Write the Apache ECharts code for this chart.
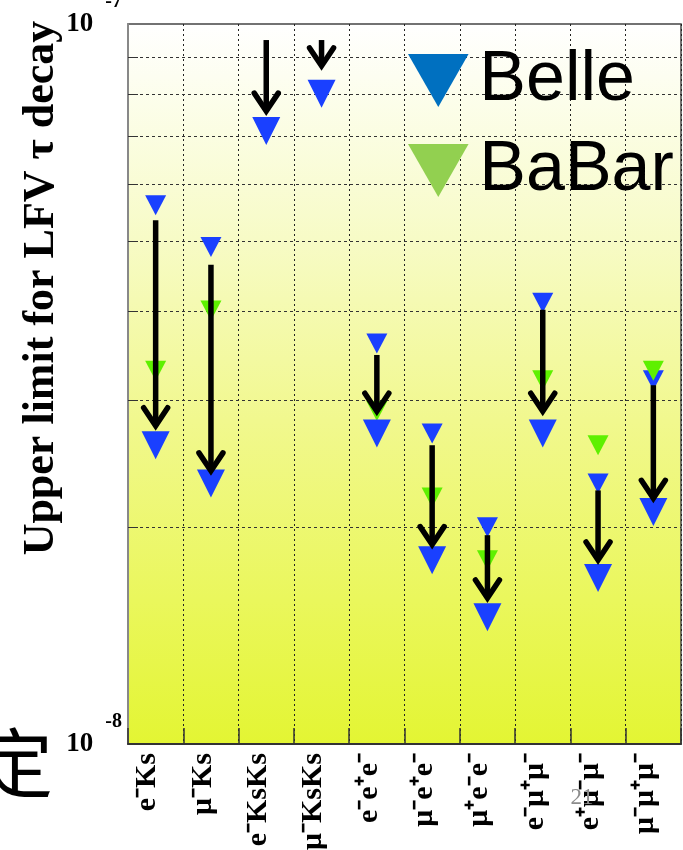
<!DOCTYPE html>
<html>
<head>
<meta charset="utf-8">
<script src="https://cdn.jsdelivr.net/npm/echarts@6/dist/echarts.min.js"></script>
<style>
html,body{margin:0;padding:0;background:#fff;}
#chart{width:683px;height:850px;}
</style>
</head>
<body>
<div id="chart"></div>
<script>
// ---- data ----
const categories = ['e\u207BKs', '\u03BC\u207BKs', 'e\u207BKsKs', '\u03BC\u207BKsKs', 'e\u207Be\u207Ae\u207B',
  '\u03BC\u207Be\u207Ae\u207B', '\u03BC\u207Ae\u207Be\u207B', 'e\u207B\u03BC\u207A\u03BC\u207B', 'e\u207A\u03BC\u207B\u03BC\u207B', '\u03BC\u207B\u03BC\u207A\u03BC\u207B'];
const belleOld = [5.6e-8, 4.9e-8, null, null, 3.6e-8, 2.7e-8, 2.0e-8, 4.1e-8, 2.3e-8, 3.2e-8];
const babar    = [3.3e-8, 4.0e-8, null, null, 2.9e-8, 2.2e-8, 1.8e-8, 3.2e-8, 2.6e-8, 3.3e-8];
const belleNew = [2.6e-8, 2.3e-8, 7.1e-8, 8.0e-8, 2.7e-8, 1.8e-8, 1.5e-8, 2.7e-8, 1.7e-8, 2.1e-8];
const arrowFrom = [5.34e-8, 4.63e-8, 9.5e-8, 9.5e-8, 3.47e-8, 2.60e-8, 1.95e-8, 4.01e-8, 2.25e-8, 3.15e-8];
const arrowTo   = [2.75e-8, 2.38e-8, 7.52e-8, 8.69e-8, 2.88e-8, 1.88e-8, 1.585e-8, 2.88e-8, 1.79e-8, 2.18e-8];
const gridValues = [2e-8, 3e-8, 4e-8, 5e-8, 6e-8, 7e-8, 8e-8, 9e-8];
const yMin = 1e-8, yMax = 1e-7;
const yTitle = 'Upper limit for LFV \u03C4 decay';
const legendNames = ['Belle', 'BaBar'];

const serif = '"Liberation Serif", "Times New Roman", serif';
const toData = arr => arr.map(v => v == null ? '-' : v);
const downTri = 'path://M0,0L2,0L1,1.75Z';

const chart = echarts.init(document.getElementById('chart'), null, {renderer: 'canvas'});
chart.setOption({
  animation: false,
  grid: {
    left: 128, right: 2, top: 24, bottom: 106,
    outerBoundsMode: 'none', containLabel: false,
    show: true,
    borderColor: '#444', borderWidth: 1.5,
    backgroundColor: new echarts.graphic.LinearGradient(0, 0, 0, 1, [
      {offset: 0, color: '#ffffff'},
      {offset: 0.3, color: '#f7fbc6'},
      {offset: 0.55, color: '#f1f88e'},
      {offset: 0.8, color: '#eaf75c'},
      {offset: 1, color: '#e3f533'}
    ])
  },
  legend: {
    left: 408, top: 41, orient: 'vertical', padding: 0,
    itemWidth: 62, itemHeight: 53, itemGap: 11,
    textStyle: {fontSize: 70, lineHeight: 70, padding: [9, 0, 0, 5],
      fontFamily: '"Liberation Sans", Arial, sans-serif', color: '#000'},
    data: [
      {name: legendNames[0], icon: downTri, itemStyle: {color: '#0070c0', opacity: 1}},
      {name: legendNames[1], icon: downTri, itemStyle: {color: '#92d050', opacity: 1}}
    ],
    selectedMode: false
  },
  xAxis: {
    type: 'category',
    data: categories,
    boundaryGap: true,
    axisLine: {show: true, lineStyle: {color: '#333', width: 2}},
    axisTick: {show: true, inside: true, length: 16, lineStyle: {color: '#333', width: 1.5}},
    splitLine: {show: true, interval: 0, lineStyle: {color: '#222', width: 1, type: [2, 3]}},
    axisLabel: {
      interval: 0, rotate: 90, margin: 9,
      fontFamily: serif, fontWeight: 'bold', fontSize: 30, color: '#000',
      verticalAlign: 'bottom', lineHeight: 16
    }
  },
  yAxis: {
    type: 'log', logBase: 10, min: yMin, max: yMax,
    axisLine: {show: true, lineStyle: {color: '#888', width: 2}},
    axisTick: {show: false},
    splitLine: {show: false},
    axisLabel: {
      margin: 6,
      formatter: v => '{b|10}{e|' + Math.round(Math.log10(v)) + '}',
      rich: {
        b: {fontFamily: serif, fontWeight: 'bold', fontSize: 27, color: '#000', lineHeight: 64, verticalAlign: 'middle'},
        e: {fontFamily: serif, fontWeight: 'bold', fontSize: 20, color: '#000', lineHeight: 20, verticalAlign: 'top', padding: [0, 0, 0, 12]}
      }
    }
  },
  series: [
    {
      name: 'gridlines', type: 'custom', z: 1, silent: true,
      data: gridValues.map(v => [0, v]),
      renderItem: (params, api) => {
        const cs = params.coordSys;
        const y = Math.round(api.coord([0, api.value(1)])[1]) + 0.5;
        return {
          type: 'group',
          children: [
            {type: 'line', shape: {x1: cs.x, y1: y, x2: cs.x + cs.width, y2: y},
             style: {stroke: '#333', lineWidth: 1, lineDash: [3, 3]}},
            {type: 'line', shape: {x1: cs.x, y1: y, x2: cs.x + 10, y2: y},
             style: {stroke: '#333', lineWidth: 1}}
          ]
        };
      }
    },
    {
      name: legendNames[0], type: 'scatter', data: toData(belleOld),
      symbol: 'triangle', symbolRotate: 180, symbolSize: [21, 20],
      itemStyle: {color: '#1a40ff', opacity: 1}, z: 3
    },
    {
      name: legendNames[1], type: 'scatter', data: toData(babar),
      symbol: 'triangle', symbolRotate: 180, symbolSize: [21, 20],
      itemStyle: {color: '#5ef000', opacity: 1}, z: 4
    },
    {
      name: legendNames[0], type: 'scatter', data: toData(belleNew),
      symbol: 'triangle', symbolRotate: 180, symbolSize: [28, 28],
      itemStyle: {color: '#1a40ff', opacity: 1}, z: 5
    },
    {
      name: 'arrows', type: 'custom', z: 6, silent: true,
      data: arrowFrom.map((v, i) => [i, v, arrowTo[i]]),
      renderItem: (params, api) => {
        const p1 = api.coord([api.value(0), api.value(1)]);
        const p2 = api.coord([api.value(0), api.value(2)]);
        const style = {stroke: '#000', lineWidth: 5.5, fill: null};
        return {
          type: 'group',
          children: [
            {type: 'line', shape: {x1: p1[0], y1: p1[1], x2: p2[0], y2: p2[1] - 3}, style: Object.assign({lineCap: 'butt'}, style)},
            {type: 'polyline', shape: {points: [[p2[0] - 12, p2[1] - 20], [p2[0], p2[1] - 2], [p2[0] + 12, p2[1] - 20]]},
             style: Object.assign({lineCap: 'round', lineJoin: 'miter'}, style)}
          ]
        };
      }
    }
  ],
  graphic: [
    {type: 'text', x: 42, y: 288, rotation: Math.PI / 2, z: 10,
     style: {text: yTitle, font: 'bold 44px ' + serif, fill: '#000', align: 'center', verticalAlign: 'middle'}},
    {type: 'text', x: 15, y: 763, z: 10,
     style: {text: '\u5B9A', font: '76px "Noto Sans CJK SC"', fill: '#000', align: 'center', verticalAlign: 'middle'}},
    {type: 'text', x: 582, y: 798, z: 10,
     style: {text: '21', font: '23px ' + serif, fill: '#8c8c8c', align: 'center', verticalAlign: 'middle'}}
  ]
});
</script>
</body>
</html>
